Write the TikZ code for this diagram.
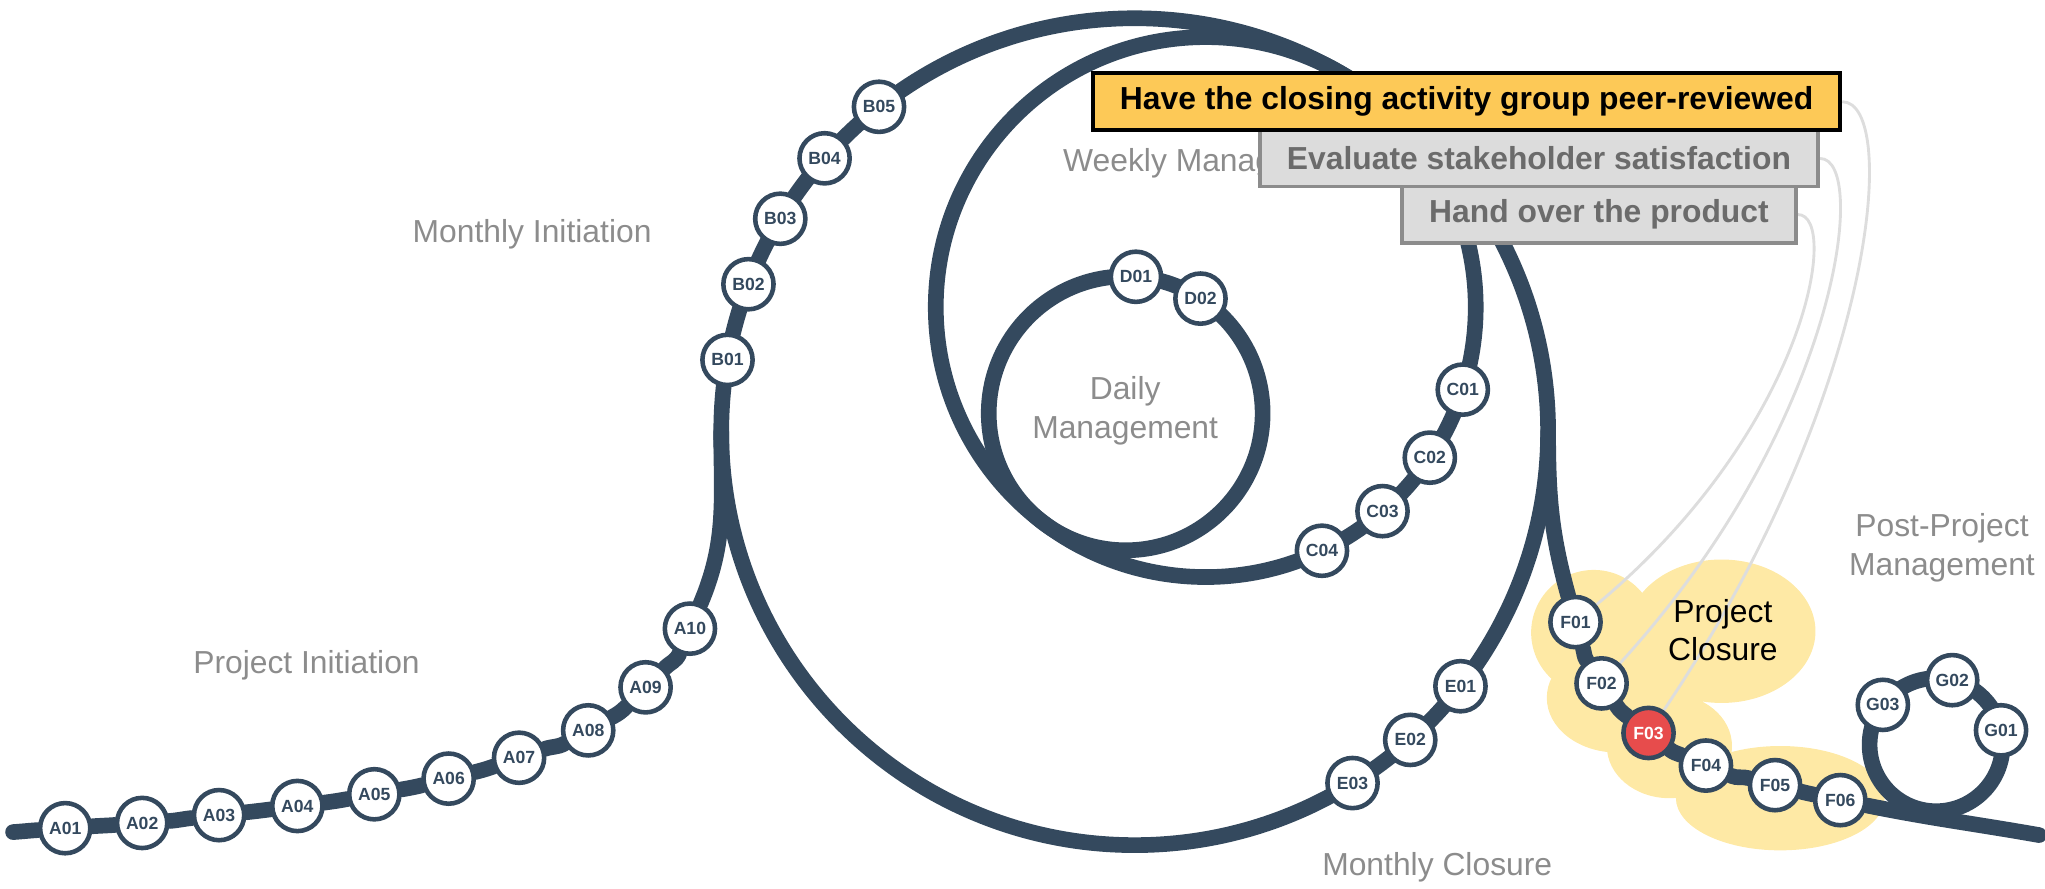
\documentclass[tikz,border=0pt]{standalone}
\usepackage{fontspec}
\setmainfont{Liberation Sans}
\usepackage{tikz}
\usetikzlibrary{calc}
\definecolor{slate}{HTML}{34495E}
\definecolor{alert}{HTML}{E74C4C}
\definecolor{hint}{HTML}{8C8C8C}
\definecolor{cloud}{HTML}{FEE9A5}
\definecolor{amber}{HTML}{FDC957}
\definecolor{boxgray}{HTML}{DCDCDC}
\definecolor{boxline}{HTML}{8C8C8C}
\definecolor{boxtext}{HTML}{6B6B6B}
\definecolor{leader}{HTML}{DDDDDD}
\pgfdeclarelayer{blob}
\pgfdeclarelayer{rails}
\pgfsetlayers{blob,rails,main}

\begin{document}
\begin{tikzpicture}[x=1pt,y=1pt,
  stop/.style={circle,draw=slate,line width=3.5pt,fill=white,minimum size=38.5pt,inner sep=0pt,text=slate,font=\bfseries\fontsize{13.5}{14}\selectfont},
  here/.style={stop,fill=alert,text=white},
  track/.style={draw=slate,line width=12pt},
  phase/.style={text=hint,inner sep=0pt,align=center,font=\fontsize{24.4}{29.3}\selectfont},
  task/.style={draw=boxline,fill=boxgray,line width=3pt,text=boxtext,inner sep=0pt,minimum height=43pt,font=\bfseries\fontsize{24.4}{29}\selectfont},
  lead/.style={draw=leader,line width=2.2pt}]
\useasboundingbox (0,0) rectangle (1568,681);

% ring centres and free ends
\coordinate (mc) at (870,350);
\coordinate (wc) at ($(mc)+(60.3:110)$);
\coordinate (dc) at ($(wc)+(233:102)$);
\coordinate (gc) at (1484.5,110);
\coordinate (join) at ($(mc)+(180:317)$);
\coordinate (fork) at ($(mc)+(0:317)$);
\coordinate (west) at (10,43);
\coordinate (east) at (1563.5,40.7);

% stations
\node[stop] (A01) at (50,46) {A01};
\node[stop] (A02) at (109,50) {A02};
\node[stop] (A03) at (168,56) {A03};
\node[stop] (A04) at (228,63) {A04};
\node[stop] (A05) at (287,72) {A05};
\node[stop] (A06) at (344,84) {A06};
\node[stop] (A07) at (398,100) {A07};
\node[stop] (A08) at (451,121) {A08};
\node[stop] (A09) at (495,154) {A09};
\node[stop] (A10) at (529,199) {A10};
\foreach \n/\a in {B01/170,B02/159.1,B03/149,B04/138.6,B05/128.2,E01/-38,E02/-48.2,E03/-58.2}
  \node[stop] (\n) at ($(mc)+(\a:317)$) {\n};
\foreach \n/\a in {C01/-17.8,C02/-33.9,C03/-49.1,C04/-64.5}
  \node[stop] (\n) at ($(wc)+(\a:207)$) {\n};
\foreach \n/\a in {D01/85.7,D02/56.9}
  \node[stop] (\n) at ($(dc)+(\a:105)$) {\n};
\foreach \n/\a in {G01/12.5,G02/76,G03/143.2}
  \node[stop] (\n) at ($(gc)+(\a:51)$) {\n};
\node[stop] (F01) at (1208,204) {F01};
\node[stop] (F02) at (1228,157) {F02};
\node[here] (F03) at (1264,119) {F03};
\node[stop] (F04) at (1308,94) {F04};
\node[stop] (F05) at (1361,79) {F05};
\node[stop] (F06) at (1411,67.5) {F06};

% phase labels
\node[phase] (pinit) at (235,171) {Project Initiation};
\node[phase] (minit) at (408,501) {Monthly Initiation};
\node[phase,anchor=west] (wman) at (815,556) {Weekly Management};
\node[phase] (dman) at (862.7,366) {Daily\\Management};
\node[phase] (mclose) at (1102,16) {Monthly Closure};
\node[phase,text=black] (pclose) at (1321,198) {Project\\Closure};
\node[phase] (ppm) at (1489,261) {Post-Project\\Management};

% activity boxes
\node[task,minimum width=302pt] (t3) at (1226,516.5) {Hand over the product};
\node[task,minimum width=428pt] (t2) at (1180,559.5) {Evaluate stakeholder satisfaction};
\node[task,draw=black,fill=amber,text=black,minimum width=573pt,minimum height=44pt] (t1) at (1124.5,603) {Have the closing activity group peer-reviewed};

\begin{pgfonlayer}{blob}
\fill[cloud] (1320,197) ellipse[x radius=72,y radius=55]
  (1222,196) circle[radius=48]
  (1240,146) ellipse[x radius=54,y radius=42]
  (1280,109) ellipse[x radius=48,y radius=40]
  (1365,69) ellipse[x radius=80,y radius=40];
\end{pgfonlayer}

\begin{pgfonlayer}{rails}
\draw[lead] (t1.east) .. controls +(44,0) and +(176,262) .. (F03);
\draw[lead] (t2.east) .. controls +(38,0) and +(182,199) .. (F02);
\draw[lead] (t3.east) .. controls +(33,0) and +(177,147) .. (F01);
\draw[track] (mc) circle[radius=317];
\draw[track] (wc) circle[radius=207];
\draw[track] (dc) circle[radius=105];
\draw[track] (gc) circle[radius=51];
\draw[track,line cap=round] (west) to[out=4,in=184] (A01) to[out=4,in=184.8] (A02)
  to[out=4.8,in=186.2] (A03) to[out=6.2,in=187.7] (A04) to[out=7.7,in=190.3] (A05)
  to[out=10.3,in=194.2] (A06) to[out=14.2,in=199] (A07) to[out=19,in=209.2] (A08)
  to[out=29.2,in=225] (A09) to[out=45,in=247] (A10) to[out=67,in=-90] (join);
\draw[track,line cap=round] (fork) to[out=-90,in=105.6] (F01) to[out=-74.4,in=123.2] (F02)
  to[out=-56.8,in=142] (F03) to[out=-38,in=157.3] (F04) to[out=-22.7,in=165.6] (F05)
  to[out=-14.4,in=168.5] (F06) to[out=-11.5,in=170] (east);
\end{pgfonlayer}
\end{tikzpicture}
\end{document}
